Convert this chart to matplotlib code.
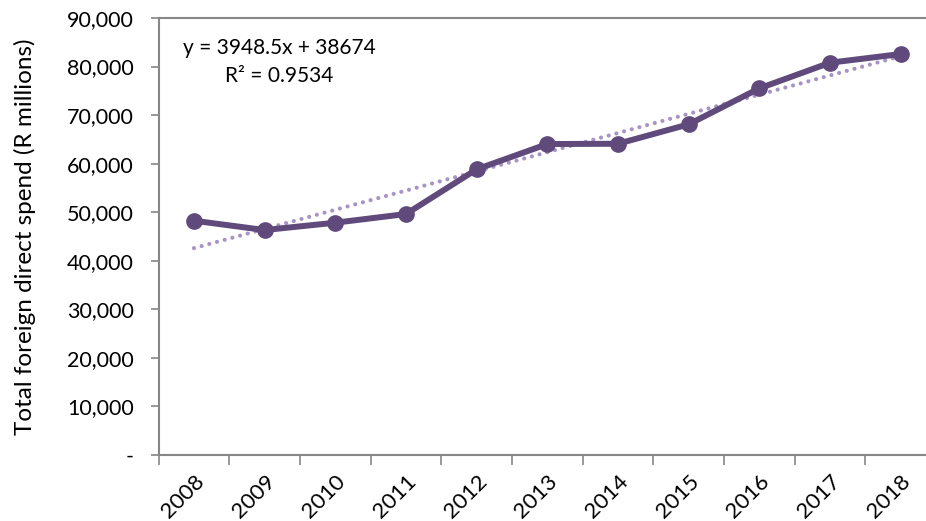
import matplotlib
matplotlib.use("Agg")
import matplotlib.pyplot as plt
import numpy as np
from matplotlib.ticker import FuncFormatter, FixedLocator

years = ["2008", "2009", "2010", "2011", "2012", "2013", "2014", "2015", "2016", "2017", "2018"]
spend = [48250, 46330, 47840, 49630, 58830, 64040, 64100, 68100, 75510, 80790, 82580]
trend_label = "y = 3948.5x + 38674\nR\u00b2 = 0.9534"

plt.rcParams['font.family'] = ['Lato', 'DejaVu Sans']

fig = plt.figure(figsize=(9.26, 5.21), dpi=100)
W, H = 926, 521
ax = fig.add_axes([158.6 / W, (H - 455) / H, (936 - 158.6) / W, (455 - 18) / H])

x = np.arange(len(years))
line_col = "#604a7b"
trend_col = "#a794c4"

# linear trendline fit from data
coef = np.polyfit(x + 1, spend, 1)
ax.plot(x, np.polyval(coef, x + 1), linestyle=(0, (0.01, 1.9)), color=trend_col,
        linewidth=3, dash_capstyle='round', zorder=2)
ax.plot(x, spend, color=line_col, linewidth=4.3, marker='o', markersize=11, zorder=3)

ax.set_xlim(-0.5, len(years) - 0.5)
ax.set_ylim(0, 90000)
ax.set_yticks(np.arange(0, 90001, 10000))
ax.yaxis.set_major_formatter(FuncFormatter(lambda v, p: "-" if v == 0 else f"{int(v):,}"))

ax.set_xticks(x)
ax.set_xticklabels(years, rotation=45, ha='right', rotation_mode='anchor')
ax.xaxis.set_minor_locator(FixedLocator(np.arange(-0.5, len(years), 1)))
ax.tick_params(axis='x', which='major', length=0, pad=12, labelsize=16)
ax.tick_params(axis='x', which='minor', length=7, width=1.2, color='#868686')
ax.tick_params(axis='y', which='major', length=6, width=1.2, color='#868686', labelsize=15.5, pad=12)

for s in ['left', 'bottom', 'top']:
    ax.spines[s].set_color('#868686')
    ax.spines[s].set_linewidth(1.5)
ax.spines['right'].set_visible(False)

ax.set_ylabel("Total foreign direct spend (R millions)", fontsize=17.5, labelpad=22)

ax.text(279 / W, 1 - 62 / H, trend_label, transform=fig.transFigure, ha='center', va='center',
        fontsize=15, linespacing=1.55)

fig.savefig("out.png", dpi=100)
